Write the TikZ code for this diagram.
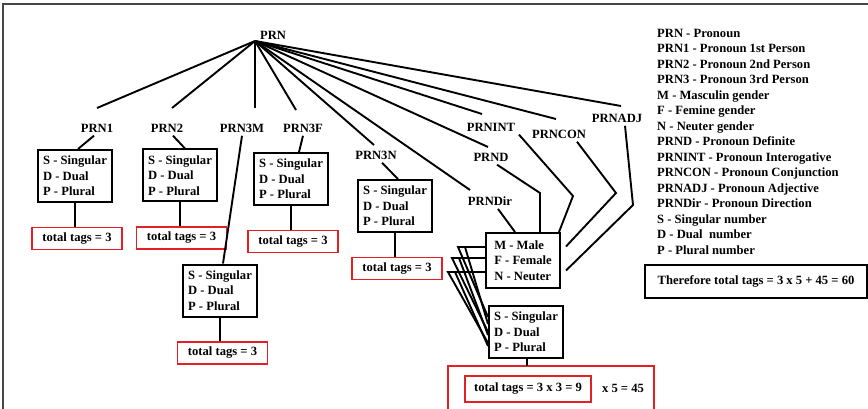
\documentclass[tikz,border=0pt]{standalone}
\usepackage{fontspec}
\setmainfont{Liberation Serif}
\usetikzlibrary{calc}

\definecolor{tagred}{RGB}{228,32,38}
\definecolor{framegray}{RGB}{70,70,70}

\tikzset{
    link/.style={line width=1.9pt},
    numbox/.style={draw, line width=2pt, align=left, minimum width=74pt, minimum height=52pt, inner sep=2pt},
    tagbox/.style={draw=tagred, line width=1.8pt, minimum width=90pt, minimum height=22pt, inner sep=1pt},
    sumbox/.style={draw, line width=2pt, minimum width=222pt, minimum height=33pt},
}

\begin{document}
\begin{tikzpicture}[x=1pt, y=-1pt, font=\fontsize{12.6}{15.5}\selectfont\bfseries]
    \useasboundingbox (0,0) rectangle (868,409);
    \draw[framegray, line width=1.4pt] (3,409) -- (3,4) -- (868,4);

    \node (prn) at (273,35) {PRN};
    \coordinate (top) at (255,41);

    \node (prn1) at (97,128) {PRN1};
    \node (prn2) at (167,128) {PRN2};
    \node (prn3m) at (242,128) {PRN3M};
    \node (prn3f) at (303,128) {PRN3F};
    \node (prn3n) at (376,155) {PRN3N};
    \node (prnint) at (491,127) {PRNINT};
    \node (prnd) at (491,157) {PRND};
    \node (prncon) at (559,134) {PRNCON};
    \node (prnadj) at (617,118) {PRNADJ};
    \node (prndir) at (490,201) {PRNDir};

    \coordinate (e1) at (97,108);
    \coordinate (e2) at (172,108);
    \coordinate (e3m) at (255,108);
    \coordinate (e3f) at (296,110);
    \coordinate (e3n) at (374,145);
    \coordinate (edir) at (470,190);
    \coordinate (ed) at (488,147);
    \coordinate (eint) at (482,114);
    \coordinate (econ) at (556,119);
    \coordinate (eadj) at (621,106);
    \foreach \e in {e1,e2,e3m,e3f,e3n,edir,ed,eint,econ,eadj}
        \draw[link] (top) -- (\e);

    \node[numbox] (num1) at (75,176) {S - Singular\\D - Dual\\P - Plural};
    \node[numbox] (num2) at (180,175.5) {S - Singular\\D - Dual\\P - Plural};
    \node[numbox] (num3f) at (291,179) {S - Singular\\D - Dual\\P - Plural};
    \node[numbox] (num3n) at (395,206) {S - Singular\\D - Dual\\P - Plural};
    \node[numbox] (num3m) at (220,290.5) {S - Singular\\D - Dual\\P - Plural};
    \node[numbox, minimum height=55pt] (gen) at (523,260.5) {M - Male\\F - Female\\N - Neuter};
    \node[numbox] (numg) at (526,332) {S - Singular\\D - Dual\\P - Plural};

    \node[tagbox] (tot1) at (77,238.5) {total tags = 3};
    \node[tagbox] (tot2) at (181.5,238) {total tags = 3};
    \node[tagbox] (tot3f) at (293,241.5) {total tags = 3};
    \node[tagbox] (tot3n) at (397,268.5) {total tags = 3};
    \node[tagbox] (tot3m) at (222.5,353) {total tags = 3};
    \node[tagbox, minimum width=126pt, minimum height=26pt] (totg) at (528,389) {total tags = 3 x 3 = 9};
    \node (times) at (623,388) {x 5 = 45};
    \draw[tagred, line width=1.8pt] (448,410) |- (654,366) -- (654,410);

    \draw[link] ([xshift=-3pt]prn1.south) -- ([xshift=3pt]num1.north);
    \draw[link] ([xshift=6pt]prn2.south) -- ([xshift=5pt]num2.north);
    \draw[link] (prn3m.south) -- ([xshift=3pt]num3m.north);
    \draw[link] (prn3f.south) -- ([xshift=8pt]num3f.north);
    \draw[link] ([xshift=6pt]prn3n.south) -- ([xshift=3pt]num3n.north);
    \draw[link] ([xshift=8pt]prndir.south) -- ([xshift=-8pt]gen.north);

    \coordinate (kd) at (540,193);
    \coordinate (kint) at (573,196);
    \coordinate (kcon) at (616,193);
    \coordinate (kadj) at (633,205);
    \draw[link] ([xshift=6pt]prnd.south) -- (kd) -- (kd |- gen.north);
    \draw[link] ([xshift=28pt]prnint.south) -- (kint) -- ([xshift=-2pt]gen.north east);
    \draw[link] ([xshift=18pt]prncon.south) -- (kcon) -- ($(gen.east)+(5,-14)$);
    \draw[link] ([xshift=8pt]prnadj.south) -- (kadj) -- ($(gen.east)+(5,10)$);

    \coordinate (cm) at (458,247);
    \coordinate (cf) at (452,258);
    \coordinate (cn) at (448,272);
    \draw[link] (gen.west |- cm) -- (cm) -- ($(numg.west)+(0,-15)$);
    \draw[link] (gen.west |- cf) -- (cf) -- ($(numg.west)+(0,0)$);
    \draw[link] (gen.west |- cn) -- (cn) -- ($(numg.west)+(0,11)$);
    \draw[link] ($(cm)+(7,0)$) -- ($(numg.west)+(0,-8)$);
    \draw[link] ($(cf)+(7,0)$) -- ($(numg.west)+(0,3)$);
    \draw[link] ($(cn)+(7,0)$) -- ($(numg.west)+(0,14)$);

    \foreach \a/\b in {num1/tot1,num2/tot2,num3f/tot3f,num3n/tot3n,num3m/tot3m}
        \draw[link] (\a.south) -- (\a.south |- \b.north);
    \draw[link] ([xshift=1pt]numg.south) -- ([xshift=1pt]numg.south |- 0,366);

    \node[anchor=north west, align=left, inner sep=0pt] (legend) at (657,29) {PRN - Pronoun\\
        PRN1 - Pronoun 1st Person\\
        PRN2 - Pronoun 2nd Person\\
        PRN3 - Pronoun 3rd Person\\
        M - Masculin gender\\
        F - Femine gender\\
        N - Neuter gender\\
        PRND - Pronoun Definite\\
        PRNINT - Pronoun Interogative\\
        PRNCON - Pronoun Conjunction\\
        PRNADJ - Pronoun Adjective\\
        PRNDir - Pronoun Direction\\
        S - Singular number\\
        D - Dual\ \ number\\
        P - Plural number};
    \node[sumbox] (sum) at (756,281.5) {Therefore total tags = 3 x 5 + 45 = 60};
\end{tikzpicture}
\end{document}
